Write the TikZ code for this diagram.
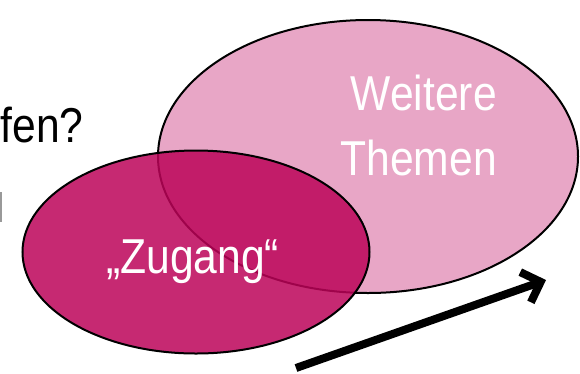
\documentclass[tikz,border=0pt]{standalone}
\usepackage{fontspec}
\usetikzlibrary{shapes.geometric,arrows.meta}
\newfontfamily\lsans[FakeStretch=0.87]{Liberation Sans}
\definecolor{bigpink}{RGB}{232,166,198}
\definecolor{magentafill}{RGB}{188,4,89}
\tikzset{
  outline/.style={draw=black, line width=2pt, ellipse, inner sep=0pt},
  bigtext/.style={font=\lsans\fontsize{49}{65}\selectfont, inner sep=0pt},
}
\begin{document}
\begin{tikzpicture}[x=1pt, y=-1pt]
\useasboundingbox (0,0) rectangle (580,373);
% big ellipse
\node[outline, fill=bigpink, minimum width=420pt, minimum height=273pt] (big) at (368,156.5) {};
% small ellipse (semi-transparent)
\node[outline, fill=magentafill, fill opacity=0.85, minimum width=347pt, minimum height=203pt] (small) at (196,252) {};
% texts
\node[bigtext, text=white, anchor=base east] (weitere) at (497,110) {Weitere};
\node[bigtext, text=white, anchor=base east] (themen) at (497,175) {Themen};
\node[bigtext, text=white, anchor=base west] (zugang) at (106,273) {„Zugang“};
\node[bigtext, text=black, anchor=base west] (frage) at (0.5,142) {fen?};
% gray fragment at left edge
\fill[gray!80] (0,192) rectangle (1.6,222);
% arrow
\coordinate (atail) at (296,368);
\coordinate (ahead) at (546,280);
\draw[line width=8pt, -{Straight Barb[length=16pt,width=32pt,line width=8pt]}] (atail) -- (ahead);
\end{tikzpicture}
\end{document}
